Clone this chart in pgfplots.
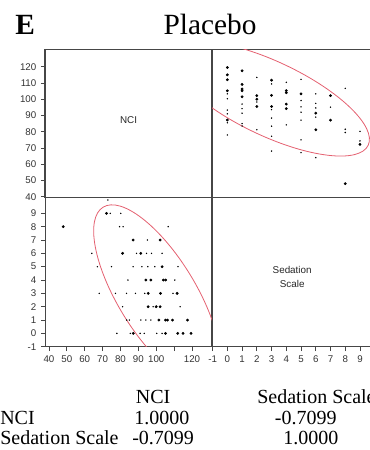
\documentclass[border=0pt]{standalone}
\usepackage{pgfplots}
\pgfplotsset{compat=1.18}
\usepackage{pgfplotstable}
\usepackage{fontspec}
\setmainfont{Liberation Serif}
\newfontfamily\ticksf{Liberation Sans}
\definecolor{ellred}{RGB}{228,96,112}
\definecolor{framec}{RGB}{70,70,70}

% large dots (NCI, Sedation Scale)
\pgfplotstableread{
nci sed
72.2 9
48 8
87.1 7
102.2 7
81.2 6
91.4 6
103.3 5
94.2 4
97 4
104 4
105.3 4
95.5 3
102.4 3
111.7 3
95.5 2
100 2
102.2 2
101.5 1
105.2 1
106.3 1
109.1 1
117.5 1
87.2 0
105.2 0
112 0
115 0
119.5 0
}\bigpts

% small dots (NCI, Sedation Scale)
\pgfplotstableread{
nci sed
73 10
74.3 9
80.2 9
79.5 8
81.5 8
106.7 8
95.1 7
64 6
89 6
94.6 6
97.4 6
103.3 6
67.1 5
75 5
87.1 5
92 5
95.3 5
99.2 5
112.2 5
84.2 4
110.4 4
68.1 3
77.2 3
83.4 3
88.4 3
93.6 3
109.4 3
81.2 2
98.3 2
113.4 2
83.5 1
85 1
91.4 1
94.2 1
97 1
78 0
85.5 0
91 0
93.3 0
100.3 0
103.3 0
}\smallpts

\pgfplotsset{panel/.style={
  scale only axis, width=125.25pt, height=111.75pt, anchor=south west,
  axis line style={framec, line width=0.75pt},
  tick style={framec, line width=0.6pt},
  major tick length=3pt, tick align=outside,
  xtick pos=left, ytick pos=left,
  tick label style={font=\fontsize{7.3}{8}\selectfont\ticksf, text=black!80},
  /pgf/number format/assume math mode=true,
  clip mode=global}}

\begin{document}
\begin{tikzpicture}
\path[use as bounding box] (0,0) rectangle (277.5pt,337.5pt);

% top-left: NCI label panel
\begin{axis}[panel, at={(33.75pt,189pt)}, xmin=0, xmax=1, ymin=39.2, ymax=130.9,
  xtick=\empty, ytick={40,50,...,120}]
\node[font=\fontsize{7.4}{9}\selectfont\ticksf, text=black!85] at (rel axis cs:0.5,0.523) {NCI};
\end{axis}

% top-right: x = Sedation, y = NCI
\begin{axis}[panel, at={(159pt,189pt)}, xmin=-1.04, xmax=10.29, ymin=39.2, ymax=130.9,
  xtick=\empty, ytick=\empty]
\addplot[only marks, mark=*, mark size=0.3pt, black] table[x=sed, y=nci] {\smallpts};
\addplot[only marks, mark=*, mark size=0.85pt, black] table[x=sed, y=nci] {\bigpts};
\draw[ellred, line width=0.6pt, rotate around={-25.4:(axis cs:2.9,100.3)}]
  (axis cs:2.9,100.3) ellipse [x radius=81.45pt, y radius=27.74pt];
\end{axis}

% bottom-left: x = NCI, y = Sedation
\begin{axis}[panel, at={(33.75pt,77.25pt)}, xmin=37.8, xmax=131.2, ymin=-1.02, ymax=10.15,
  xtick={40,50,...,120}, xticklabels={40,50,60,70,80,90,100,,120},
  ytick={-1,0,...,9}]
\addplot[only marks, mark=*, mark size=0.3pt, black] table[x=nci, y=sed] {\smallpts};
\addplot[only marks, mark=*, mark size=0.85pt, black] table[x=nci, y=sed] {\bigpts};
\draw[ellred, line width=0.6pt, rotate around={-58.5:(axis cs:100.3,2.9)}]
  (axis cs:100.3,2.9) ellipse [x radius=77.0pt, y radius=29.2pt];
\end{axis}

% bottom-right: Sedation Scale label panel
\begin{axis}[panel, at={(159pt,77.25pt)}, xmin=-1.04, xmax=10.29, ymin=0, ymax=1,
  xtick={-1,0,...,9}, ytick=\empty]
\node[font=\fontsize{7.4}{10.5}\selectfont\ticksf, text=black!85, align=center] at (rel axis cs:0.48,0.47) {Sedation\\Scale};
\end{axis}

% title
\node[anchor=base west, inner sep=0, font=\fontsize{22}{26}\selectfont\bfseries] at (11.25pt,311.25pt) {E};
\node[anchor=base, inner sep=0, font=\fontsize{22}{26}\selectfont] at (157.5pt,311.25pt) {Placebo};

% correlation table
\begin{scope}[every node/.style={anchor=base west, inner sep=0, font=\fontsize{15}{17}\selectfont}]
\node at (101.7pt,34.9pt) {NCI};
\node at (192.75pt,34.9pt) {Sedation Scale};
\node at (0pt,19.1pt) {NCI};
\node at (100.5pt,19.1pt) {1.0000};
\node at (206pt,19.1pt) {-0.7099};
\node at (0pt,4.1pt) {Sedation Scale};
\node at (99pt,4.1pt) {-0.7099};
\node at (212.25pt,4.1pt) {1.0000};
\end{scope}
\end{tikzpicture}
\end{document}
